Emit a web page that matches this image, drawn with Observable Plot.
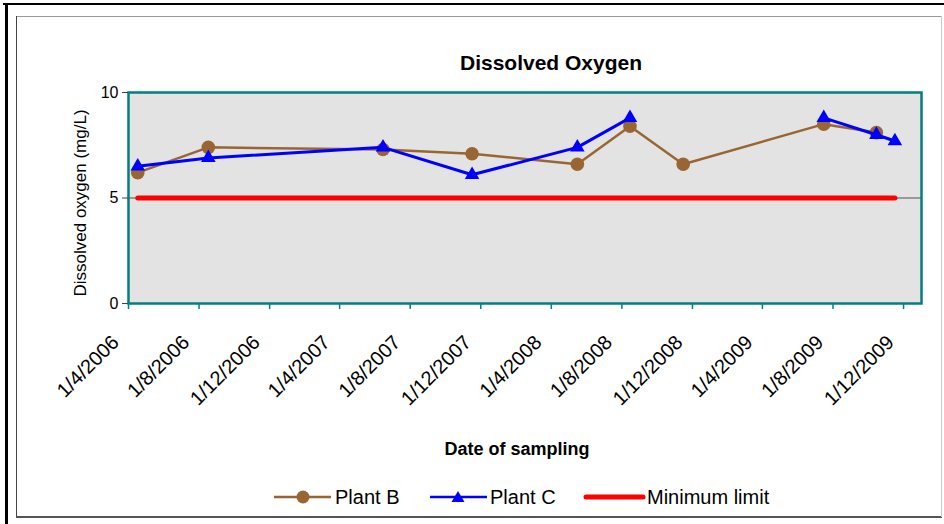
<!DOCTYPE html>
<html>
<head>
<meta charset="utf-8">
<script src="https://cdn.jsdelivr.net/npm/d3@7"></script>
<script src="https://cdn.jsdelivr.net/npm/@observablehq/plot@0.6"></script>
<style>
  html, body { margin: 0; padding: 0; background: #fff; }
  #wrap { position: relative; width: 944px; height: 524px; overflow: hidden; font-family: "Liberation Sans", Arial, sans-serif; color: #000; }
  #chart { position: absolute; left: 0; top: 0; }
  .ln { position: absolute; }
  #title { position: absolute; top: 52px; left: 551px; transform: translateX(-50%); font-weight: bold; font-size: 21px; line-height: 21px; white-space: nowrap; }
  .lg { position: absolute; top: 487px; font-size: 20px; line-height: 20px; white-space: nowrap; }
  .sw { position: absolute; top: 489px; }
</style>
</head>
<body>
<div id="wrap">
  <div class="ln" style="left:3px;top:3px;width:941px;height:2px;background:#000"></div>
  <div class="ln" style="left:5px;top:3px;width:2.5px;height:521px;background:#000"></div>
  <div class="ln" style="left:16px;top:16px;width:926px;height:1px;background:#9a9a9a"></div>
  <div class="ln" style="left:16px;top:16px;width:1px;height:501px;background:#444"></div>
  <div class="ln" style="left:16px;top:516px;width:926px;height:2px;background:#555"></div>
  <div class="ln" style="left:941px;top:16px;width:1px;height:501px;background:#c8c8c8"></div>
  <div id="chart"></div>
  <div id="title">Dissolved Oxygen</div>
  <svg class="sw" style="left:274px" width="57" height="16"><line x1="0" y1="8" x2="57" y2="8" stroke="#996633" stroke-width="2.5"/><circle cx="29" cy="8" r="6.5" fill="#996633"/></svg>
  <div class="lg" style="left:335px">Plant B</div>
  <svg class="sw" style="left:430px" width="57" height="16"><line x1="0" y1="8" x2="57" y2="8" stroke="#0000ff" stroke-width="2.5"/><path d="M28,2 L34.5,13 L21.5,13 Z" fill="#0000ff"/></svg>
  <div class="lg" style="left:490px">Plant C</div>
  <svg class="sw" style="left:583px" width="63" height="16"><line x1="3" y1="8" x2="60" y2="8" stroke="#ff0000" stroke-width="5" stroke-linecap="round"/></svg>
  <div class="lg" style="left:647px">Minimum limit</div>
</div>
<script>
// ---- data ----
const sampleDates = ["2006-04-17", "2006-08-17", "2007-06-15", "2007-11-16", "2008-05-16",
                     "2008-08-15", "2008-11-15", "2009-07-16", "2009-10-15", "2009-11-16"];
const plantB = [6.2, 7.4, 7.3, 7.1, 6.6, 8.4, 6.6, 8.5, 8.1, null];
const plantC = [6.5, 6.9, 7.4, 6.1, 7.4, 8.8, null, 8.8, 8.0, 7.7];
const minLimit = [5, 5, 5, 5, 5, 5, 5, 5, 5, 5];
const xTicks = ["2006-04-01", "2006-08-01", "2006-12-01", "2007-04-01", "2007-08-01", "2007-12-01",
                "2008-04-01", "2008-08-01", "2008-12-01", "2009-04-01", "2009-08-01", "2009-12-01"];
const xDomain = ["2006-04-01", "2010-01-01"];
const yTicks = [0, 5, 10];
const yDomain = [0, 10];

const parse = d3.utcParse("%Y-%m-%d");
const fmt = d3.utcFormat("%-d/%-m/%Y");
const rows = sampleDates.map((d, i) => ({
  date: parse(d),
  b: plantB[i] == null ? NaN : plantB[i],
  c: plantC[i] == null ? NaN : plantC[i],
  m: minLimit[i]
}));

const W = 944, H = 470, mT = 92, mB = 167, mL = 128, mR = 23;
const teal = "#008080";

const chart = Plot.plot({
  width: W, height: H,
  marginTop: mT, marginBottom: mB, marginLeft: mL, marginRight: mR,
  style: { fontFamily: '"Liberation Sans", Arial, sans-serif', fontSize: "16px", color: "#000", background: "transparent" },
  x: { type: "utc", domain: xDomain.map(parse) },
  y: { domain: yDomain },
  marks: [
    Plot.frame({ fill: "#e3e3e3" }),
    Plot.ruleY([5], { stroke: "#808080", strokeWidth: 1.5 }),
    Plot.line(rows, { x: "date", y: "b", stroke: "#996633", strokeWidth: 2.5 }),
    Plot.dot(rows, { x: "date", y: "b", r: 6.8, fill: "#996633", stroke: "none" }),
    Plot.line(rows, { x: "date", y: "c", stroke: "#0000ff", strokeWidth: 3 }),
    Plot.dot(rows, { x: "date", y: "c", symbol: "triangle", r: 5.4, fill: "#0000ff", stroke: "none" }),
    Plot.line(rows, { x: "date", y: "m", stroke: "#ff0000", strokeWidth: 5, strokeLinecap: "round" }),
    Plot.frame({ stroke: teal, strokeWidth: 2.5 }),
    Plot.axisY({ ticks: yTicks, tickSize: 6, tickPadding: 4, fontSize: 16, stroke: "#404040", label: null }),
    Plot.axisX({ ticks: xTicks.map(parse), tickSize: 6, stroke: teal, strokeWidth: 1.5, fill: "none", label: null }),
    Plot.axisX({ ticks: xTicks.map(parse), tickFormat: fmt, tickSize: 0, tickPadding: 0, tickRotate: -45,
                 textAnchor: "end", lineAnchor: "middle", fontSize: 20, dx: -13, dy: 35.5, label: null }),
    Plot.text(["Dissolved oxygen (mg/L)"], { frameAnchor: "left", rotate: -90, dx: -48, dy: 5, fontSize: 17, textAnchor: "middle" }),
    Plot.text(["Date of sampling"], { frameAnchor: "bottom", dx: -8, dy: 151, fontSize: 18, fontWeight: "bold" })
  ]
});
document.getElementById("chart").appendChild(chart);
</script>
</body>
</html>
